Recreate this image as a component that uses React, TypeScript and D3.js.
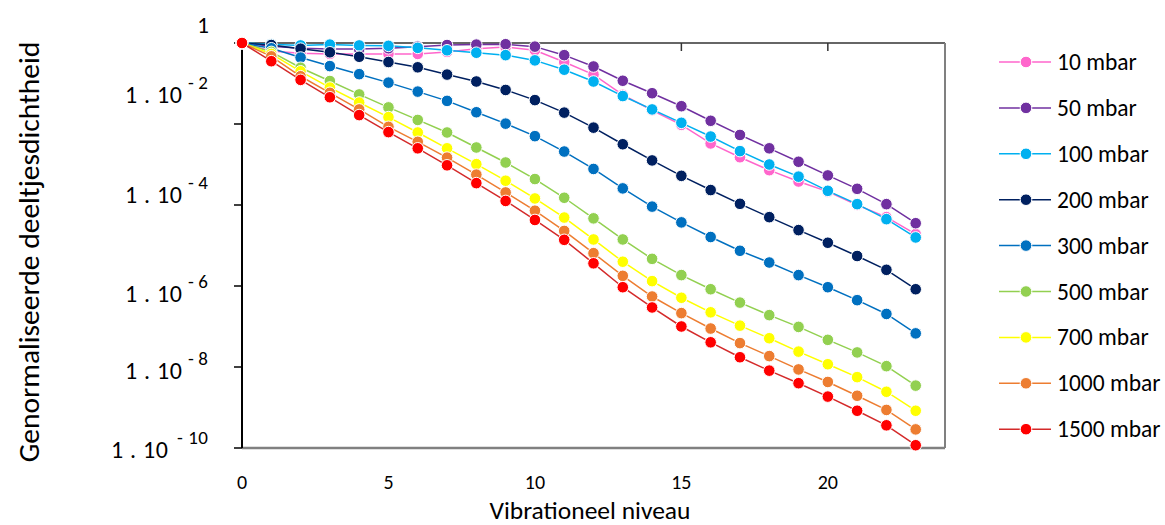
import React from "react";
import * as d3 from "d3";

const levels = d3.range(0, 24);

const seriesNames = ["10 mbar", "50 mbar", "100 mbar", "200 mbar", "300 mbar", "500 mbar", "700 mbar", "1000 mbar", "1500 mbar"];
const seriesColors = ["#FF66CC", "#7030A0", "#00B0F0", "#002060", "#0070C0", "#92D050", "#FFFF00", "#ED7D31", "#FF0000"];
const lineColors = ["#FF66CC", "#7030A0", "#00B0F0", "#002060", "#0070C0", "#92D050", "#FFFF00", "#ED7D31", "#D42A2A"];

const p10 = [1, 0.631, 0.562, 0.537, 0.537, 0.537, 0.537, 0.603, 0.724, 0.794, 0.661, 0.339, 0.166, 5.25e-2, 2.19e-2, 9.55e-3, 3.31e-3, 1.51e-3, 7.24e-4, 3.8e-4, 2.14e-4, 1.0e-4, 5.01e-5, 1.91e-5];
const p50 = [1, 0.832, 0.741, 0.708, 0.708, 0.741, 0.813, 0.891, 0.912, 0.933, 0.813, 0.501, 0.263, 0.117, 5.75e-2, 2.75e-2, 1.2e-2, 5.37e-3, 2.51e-3, 1.17e-3, 5.37e-4, 2.51e-4, 1.05e-4, 3.55e-5];
const p100 = [1, 0.933, 0.871, 0.912, 0.871, 0.851, 0.759, 0.661, 0.575, 0.501, 0.372, 0.219, 0.112, 4.9e-2, 2.29e-2, 1.07e-2, 4.9e-3, 2.14e-3, 1.0e-3, 5.01e-4, 2.24e-4, 1.05e-4, 4.47e-5, 1.58e-5];
const p200 = [1, 0.891, 0.724, 0.589, 0.457, 0.339, 0.251, 0.166, 0.112, 6.92e-2, 3.89e-2, 1.91e-2, 8.13e-3, 3.16e-3, 1.26e-3, 5.25e-4, 2.34e-4, 1.07e-4, 5.01e-5, 2.4e-5, 1.17e-5, 5.5e-6, 2.51e-6, 8.32e-7];
const p300 = [1, 0.741, 0.437, 0.269, 0.17, 0.105, 6.31e-2, 3.72e-2, 1.95e-2, 1.02e-2, 5.01e-3, 2.09e-3, 7.76e-4, 2.57e-4, 9.12e-5, 3.72e-5, 1.62e-5, 7.41e-6, 3.8e-6, 1.86e-6, 9.33e-7, 4.47e-7, 2.04e-7, 6.76e-8];
const p500 = [1, 0.603, 0.245, 0.115, 5.37e-2, 2.57e-2, 1.26e-2, 6.17e-3, 2.63e-3, 1.12e-3, 4.37e-4, 1.51e-4, 4.68e-5, 1.41e-5, 4.68e-6, 1.86e-6, 8.32e-7, 3.89e-7, 1.91e-7, 9.77e-8, 4.68e-8, 2.29e-8, 1.05e-8, 3.47e-9];
const p700 = [1, 0.537, 0.2, 7.94e-2, 3.39e-2, 1.48e-2, 6.17e-3, 2.51e-3, 1.02e-3, 3.98e-4, 1.45e-4, 4.9e-5, 1.41e-5, 3.98e-6, 1.32e-6, 5.13e-7, 2.24e-7, 1.05e-7, 5.13e-8, 2.4e-8, 1.17e-8, 5.62e-9, 2.45e-9, 8.32e-10];
const p1000 = [1, 0.468, 0.151, 5.89e-2, 2.29e-2, 8.51e-3, 3.63e-3, 1.48e-3, 5.62e-4, 2.04e-4, 7.24e-5, 2.29e-5, 6.46e-6, 1.78e-6, 5.5e-7, 2.14e-7, 8.91e-8, 3.89e-8, 1.86e-8, 8.71e-9, 4.27e-9, 1.95e-9, 8.71e-10, 2.88e-10];
const p1500 = [1, 0.355, 0.123, 4.57e-2, 1.66e-2, 6.31e-3, 2.51e-3, 9.55e-4, 3.47e-4, 1.26e-4, 4.27e-5, 1.38e-5, 3.63e-6, 9.33e-7, 2.95e-7, 1.0e-7, 4.07e-8, 1.74e-8, 8.13e-9, 3.98e-9, 1.86e-9, 8.32e-10, 3.63e-10, 1.17e-10];

const seriesValues = [p10, p50, p100, p200, p300, p500, p700, p1000, p1500];

const xTicks = [0, 5, 10, 15, 20];
const yTicks = [1, 1e-2, 1e-4, 1e-6, 1e-8, 1e-10];
const yTickExponents = ["", "- 2", "- 4", "- 6", "- 8", "- 10"];
// vertical nudges of the y tick label baselines relative to their ticks (as in the reference)
const yLabelNudge = [-10, -21, -2, 16, 12, 10];

const FONT = "Carlito, Calibri, Lato, sans-serif";

export default function App() {
  const W = 1165, H = 525;
  const left = 242, right = 945, top = 43, bottom = 448;
  const x = d3.scaleLinear().domain([0, 24]).range([left, right]);
  const y = d3.scaleLog().domain([1e-10, 1]).range([bottom, top]);
  const line = d3.line<number>().x((_, i) => x(levels[i])).y((v) => y(v));

  const legendX0 = 999, legendX1 = 1051, legendTop = 62, legendStep = 45.9;
  const labelRight = 208;

  return (
    <svg width={W} height={H} style={{ position: "absolute", left: 0, top: 0, background: "#fff" }} fontFamily={FONT}>
      {/* frame */}
      <line x1={left} x2={right} y1={top} y2={top} stroke="#333" strokeWidth={1.5} />
      <line x1={right} x2={right} y1={top} y2={bottom} stroke="#808080" strokeWidth={2} />
      <line x1={left} x2={right} y1={bottom} y2={bottom} stroke="#808080" strokeWidth={2.5} />
      {xTicks.filter((t) => t > 0).map((t) => (
        <line key={"tt" + t} x1={x(t)} x2={x(t)} y1={top} y2={top + 8} stroke="#333" strokeWidth={1.5} />
      ))}
      <line x1={left} x2={left} y1={top} y2={bottom} stroke="#000" strokeWidth={2} />
      {yTicks.map((t) => (
        <line key={"yt" + t} x1={left - 8} x2={left} y1={y(t)} y2={y(t)} stroke="#000" strokeWidth={1.5} />
      ))}

      {/* y tick labels */}
      {yTicks.map((t, i) => {
        const base = y(t) + yLabelNudge[i];
        if (i === 0) {
          return (
            <text key={"yl" + t} x={labelRight + 1} y={base} textAnchor="end" fontSize={23} fill="#000">1</text>
          );
        }
        const exp = yTickExponents[i];
        const supW = exp.length > 3 ? 31 : 20;
        const mainW = 57;
        const mainEnd = labelRight - supW - (exp.length > 3 ? 9 : 6);
        return (
          <g key={"yl" + t}>
            <text x={mainEnd - mainW} y={base} fontSize={24} fill="#000" textLength={mainW} lengthAdjust="spacing">1 . 10</text>
            <text x={labelRight - supW} y={base - 14} fontSize={19} fill="#000" textLength={supW} lengthAdjust="spacing">{exp}</text>
          </g>
        );
      })}

      {/* x tick labels */}
      {xTicks.map((t) => (
        <text key={"xl" + t} x={x(t)} y={488.5} textAnchor="middle" fontSize={20} fill="#000">{t}</text>
      ))}

      {/* axis titles */}
      <text x={590} y={518.5} textAnchor="middle" fontSize={25.5} fill="#000">Vibrationeel niveau</text>
      <text transform="translate(39,252) rotate(-90)" textAnchor="middle" fontSize={29.5} fill="#000">Genormaliseerde deeltjesdichtheid</text>

      {/* series */}
      {seriesValues.map((vals, s) => (
        <g key={"s" + s}>
          <path d={line(vals) || ""} fill="none" stroke={lineColors[s]} strokeWidth={1.5} />
          {vals.map((v, i) => (
            <circle key={i} cx={x(levels[i])} cy={y(v)} r={5.8} fill={seriesColors[s]} stroke="#fff" strokeWidth={1} />
          ))}
        </g>
      ))}

      {/* legend */}
      {seriesNames.map((name, i) => {
        const ly = legendTop + i * legendStep;
        return (
          <g key={"lg" + i}>
            <line x1={legendX0} x2={legendX1} y1={ly} y2={ly} stroke={lineColors[i]} strokeWidth={1.5} />
            <circle cx={(legendX0 + legendX1) / 2 + 1} cy={ly} r={5.8} fill={seriesColors[i]} stroke="#fff" strokeWidth={1} />
            <text x={1057} y={ly + 8} fontSize={23.5} fill="#000">{name}</text>
          </g>
        );
      })}
    </svg>
  );
}
